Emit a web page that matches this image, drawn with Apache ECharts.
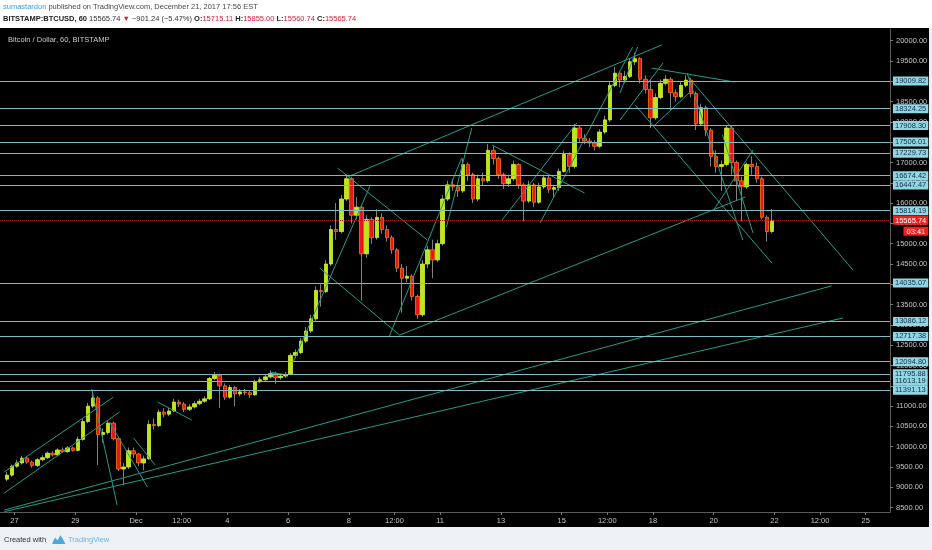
<!DOCTYPE html>
<html><head><meta charset="utf-8">
<script src="https://cdn.jsdelivr.net/npm/echarts@6/dist/echarts.min.js"></script>
<style>html,body{margin:0;padding:0;background:#eef1f4}#c{width:932px;height:550px}</style>
</head><body><div id="c"></div>
<script>
// Time axis: hours since 2017-11-27 00:00; 4-hour candles
const candleStart = -8;
const candleHours = 4;
const firstOpen = 9200;
const closes = [9300,9520,9600,9720,9620,9540,9680,9730,9840,9800,9920,9880,9970,9910,10180,10620,11000,11200,10300,10350,
10580,10200,9450,9500,9900,9820,9600,9700,10550,10520,10850,10800,10880,11100,11050,10920,10980,11060,11120,11180,
11680,11760,11500,11220,11460,11300,11350,11330,11280,11600,11650,11720,11800,11700,11740,11780,12250,12320,12600,12850,
13150,13850,13820,14500,15350,15300,16100,16600,15700,15900,14750,15600,15150,15650,15350,15150,14850,14400,14150,14200,
13700,13250,14500,14850,14600,15000,16100,16450,16400,16300,16950,16700,16100,16600,16550,17300,17100,16700,16480,16600,
16950,16450,16050,16450,16020,16400,16620,16340,16380,16780,17200,16900,17850,17600,17530,17480,17400,17750,18050,18900,
19200,19030,19120,19480,19560,19050,18800,18100,18600,18950,19050,18720,18620,18900,19030,18700,17950,18350,17800,17150,
16900,16950,17850,17000,16550,16400,16950,16900,16600,15650,15300,15566];
const highs = [9380,9560,9680,9780,9760,9660,9720,9790,9880,9890,9960,9980,10010,10000,10250,10700,11080,11350,11250,10450,
10650,10620,10250,9600,9980,9980,9850,9780,10650,10700,10920,10950,10960,11180,11160,11100,11050,11120,11180,11240,
11720,11840,11800,11560,11520,11500,11420,11420,11380,11650,11720,11780,11880,11850,11800,11840,12300,12400,12680,12950,
13250,13950,14000,14600,15450,16000,16200,16700,16650,16150,15950,15700,15650,15850,15750,15450,15200,14900,14500,14450,
14250,13750,14600,14950,15100,15100,16200,16550,16600,16450,17100,17000,16750,16700,16750,17450,17400,17150,16750,16700,
17050,16980,16500,16550,16500,16500,16700,16680,16450,16850,17300,17250,17950,17900,17700,17600,17550,17820,18150,19000,
19350,19250,19250,19550,19700,19600,19150,19050,18700,19050,19150,19100,18800,18980,19150,19080,18750,18450,18400,17850,
17300,17050,17900,17900,17050,16650,17000,17150,17000,16650,15700,15855];
const lows = [9150,9260,9480,9560,9580,9480,9500,9640,9700,9760,9770,9850,9850,9880,9890,10150,10580,10950,9550,10100,
10300,10150,9400,9050,9450,9720,9520,9420,9680,10420,10480,10720,10750,10850,10980,10850,10880,10940,11020,11080,
11150,11640,10950,11150,11180,11000,11240,11270,11200,11250,11560,11600,11680,11550,11650,11700,11760,12180,12280,12550,
12800,13100,13450,13780,14450,15100,15250,16050,15500,15600,13600,14650,15000,15100,15250,15050,14750,14300,13300,14050,
13600,13150,13200,14400,14150,14550,14950,16050,16300,16150,16250,16550,16000,16050,16450,16500,16950,16600,16350,16400,
16550,16350,15550,16000,15900,15980,16350,16250,16150,16300,16750,16750,16850,17500,17450,17380,17300,17350,17700,18000,
18850,18850,18950,19080,19400,18950,18700,17850,18050,18550,18900,18300,18500,18580,18850,18600,17800,17900,17650,16900,
16750,16300,16900,16700,16050,15550,16350,16700,16500,15600,15050,15250];

// Horizontal levels drawn on the chart
const levels = [19009.82,18324.25,17908.30,17506.01,17229.73,16674.42,16447.47,15814.19,14035.07,13086.12,12717.38,12094.80,11795.88,11613.19,11391.13];
const currentPrice = 15565.74;
const countdown = '03:41';

// Trend lines: [hour1, price1, hour2, price2]
const trendLines = [
 [-8,8440,645,13960],[-8,8400,654,13170],[-8,9380,78,11220],[-8,8860,83,10855],
 [61,11420,81,8565],[75,10610,105,9005],[94,10215,111,9550],[113,11100,140,10655],
 [220,12085,281,16445],[241,14400,304,12750],[255,16865,326,15090],[304,12750,577,16150],
 [296,12725,353,17110],[341,15410,361,17850],[263,16645,511,19895],[377,17430,450,16250],
 [415,15510,488,19845],[385,15585,444,17975],[503,19325,569,18980],[532,19105,662,14350],
 [490,18415,598,14525],[478,18045,512,19450],[504,17875,535,18785],[531,19205,575,15090],
 [559,17675,583,15265],[552,15830,583,17310],[202,11840,215,11765],[478,18710,492,19845]
];

// Axis ticks
const xTickHours = [0,48,96,132,168,216,264,300,336,384,432,468,504,552,600,636,672];
const xTickLabels = ['27','29','Dec','12:00','4','6','8','12:00','11','13','15','12:00','18','20','22','12:00','25'];
const yTicks = [8500,9000,9500,10000,10500,11000,11500,12000,12500,13000,13500,14000,14500,15000,15500,16000,16500,17000,17500,18000,18500,19000,19500,20000];

const FONT = 'Liberation Sans, Arial, DejaVu Sans, sans-serif';
const candles = [], bodies = [];
let prev = firstOpen;
for (let i = 0; i < closes.length; i++) {
  const t = candleStart + i * candleHours + candleHours / 2;
  const o = prev, c = closes[i];
  candles.push([t, o, c, Math.min(lows[i], o, c), Math.max(highs[i], o, c)]);
  bodies.push([t, o, c, Math.min(o, c), Math.max(o, c)]);
  prev = c;
}

const chart = echarts.init(document.getElementById('c'));
chart.setOption({
  animation: false,
  backgroundColor: '#eef1f4',
  grid: {left: 0, right: 42, top: 29, bottom: 38},
  xAxis: {
    type: 'value', min: -11.45, max: 691.2,
    splitLine: {show: false},
    axisLine: {show: true, onZero: false, lineStyle: {color: '#5a5a5a'}},
    axisTick: {show: true, length: 3, lineStyle: {color: '#777'}, customValues: xTickHours},
    axisLabel: {color: '#c4c4c4', fontSize: 7.5, fontFamily: FONT, margin: 5,
      customValues: xTickHours,
      formatter: v => { const k = xTickHours.indexOf(v); return k >= 0 ? xTickLabels[k] : ''; }}
  },
  yAxis: {
    type: 'value', position: 'right', min: 8392, max: 20288,
    splitLine: {show: false},
    axisLine: {show: true, onZero: false, lineStyle: {color: '#5a5a5a'}},
    axisTick: {show: true, length: 3, lineStyle: {color: '#777'}, customValues: yTicks},
    axisLabel: {color: '#c4c4c4', fontSize: 7.5, fontFamily: FONT, margin: 6,
      customValues: yTicks, formatter: v => v.toFixed(2)}
  },
  series: [
    {
      type: 'candlestick', name: 'wicks', data: candles, barWidth: 1,
      encode: {x: 0, y: [1, 2, 3, 4]},
      itemStyle: {color: '#808080', color0: '#808080', borderColor: '#808080', borderColor0: '#808080', borderWidth: 1},
      silent: true,
      markLine: {
        silent: true, symbol: ['none', 'none'], animation: false,
        label: {show: false},
        lineStyle: {color: '#239c88', width: 1, type: 'solid'},
        emphasis: {disabled: true},
        data: trendLines.map(a => [{coord: [a[0], a[1]]}, {coord: [a[2], a[3]]}])
      }
    },
    {
      type: 'candlestick', name: 'bodies', data: bodies, barWidth: 4,
      encode: {x: 0, y: [1, 2, 3, 4]},
      itemStyle: {color: '#b4ea1e', color0: '#e8161a', borderColor: '#dcef22', borderColor0: '#f47a12', borderWidth: 0.8},
      silent: true,
      markLine: {
        silent: true, symbol: ['none', 'none'], animation: false,
        emphasis: {disabled: true},
        lineStyle: {color: '#7cbcc6', width: 1, type: 'solid'},
        label: {position: 'end', distance: 3, fontSize: 7.5, fontFamily: FONT, color: '#10304a',
          backgroundColor: '#92d5e3', padding: [1, 2, 0, 2]},
        data: levels.map(v => ({yAxis: v, label: {formatter: v.toFixed(2)}})).concat([{
          yAxis: currentPrice,
          lineStyle: {color: '#b01818', type: 'dotted', width: 1},
          label: {
            formatter: '{p|' + currentPrice.toFixed(2) + '}\n{c|' + countdown + '}',
            backgroundColor: 'transparent', padding: 0, offset: [0, 5],
            rich: {
              p: {backgroundColor: '#f2201c', color: '#ffffff', fontSize: 7.5, fontFamily: FONT, padding: [1, 2, 0, 2], lineHeight: 11},
              c: {backgroundColor: '#f2201c', color: '#ffffff', fontSize: 7.5, fontFamily: FONT, padding: [1, 3, 0, 3], lineHeight: 11, align: 'right'}
            }
          }
        }])
      }
    }
  ],
  graphic: [
    {type: 'rect', z: -10, silent: true, shape: {x: 0, y: 0, width: 932, height: 28}, style: {fill: '#ffffff'}},
    {type: 'rect', z: -10, silent: true, shape: {x: 0, y: 28, width: 929, height: 499}, style: {fill: '#000000'}},
    {type: 'text', x: 3, y: 7, style: {text: '{u|sumastardon} published on TradingView.com, December 21, 2017 17:56 EST',
      fill: '#4a4a4a', fontSize: 7.5, fontFamily: FONT, verticalAlign: 'middle',
      rich: {u: {fill: '#3d9fdc', fontSize: 7.5, fontFamily: FONT}}}},
    {type: 'text', x: 3, y: 19, style: {text: '{b|BITSTAMP:BTCUSD, 60} 15565.74 {r|▼} −901.24 (−5.47%) {b|O:}{r|15715.11} {b|H:}{r|15855.00} {b|L:}{r|15560.74} {b|C:}{r|15565.74}',
      fill: '#333333', fontSize: 7.5, fontFamily: FONT, verticalAlign: 'middle',
      rich: {b: {fontWeight: 'bold', fill: '#222222', fontSize: 7.5, fontFamily: FONT},
             r: {fill: '#d0203a', fontSize: 7.5, fontFamily: FONT}}}},
    {type: 'text', x: 8, y: 40, style: {text: 'Bitcoin / Dollar, 60, BITSTAMP', fill: '#c8c8c8', fontSize: 7.5, fontFamily: FONT, verticalAlign: 'middle'}},
    {type: 'text', x: 4, y: 540, style: {text: 'Created with', fill: '#333333', fontSize: 7.5, fontFamily: FONT, verticalAlign: 'middle'}},
    {type: 'polygon', shape: {points: [[52, 544], [55, 537.5], [57.5, 540.5], [60.5, 535], [65.5, 544]]}, style: {fill: '#4aa8e0'}},
    {type: 'text', x: 68, y: 540, style: {text: 'TradingView', fill: '#6ab4e0', fontSize: 7.5, fontFamily: FONT, verticalAlign: 'middle'}}
  ]
});
</script></body></html>
